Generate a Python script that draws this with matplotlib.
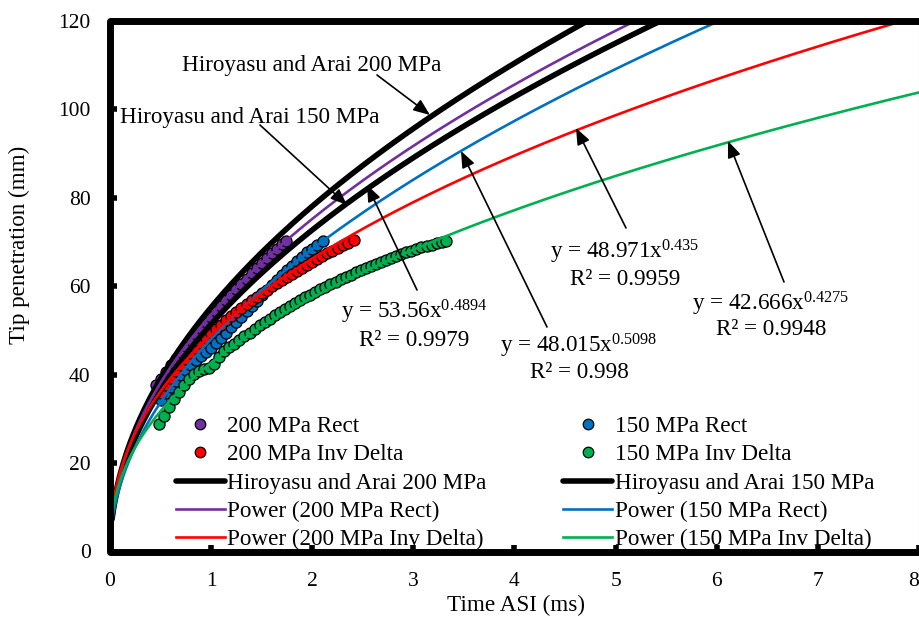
import numpy as np
import matplotlib
matplotlib.use('Agg')
import matplotlib.pyplot as plt
from matplotlib.lines import Line2D

plt.rcParams['font.family'] = ['Liberation Serif', 'DejaVu Serif']
plt.rcParams['mathtext.fontset'] = 'custom'
plt.rcParams['mathtext.rm'] = 'Liberation Serif'
plt.rcParams['mathtext.it'] = 'Liberation Serif:italic'

W, H, DPI = 920, 626, 100

# ---------------- data ----------------
t_200_rect = [0.45, 0.50, 0.55, 0.60, 0.65, 0.70, 0.75, 0.80, 0.85, 0.90, 0.95, 1.00, 1.05,
              1.10, 1.15, 1.20, 1.25, 1.30, 1.35, 1.40, 1.45, 1.50, 1.55, 1.60, 1.65, 1.70, 1.74]
y_200_rect = [37.6, 39.0, 40.6, 42.1, 43.6, 45.0, 46.4, 47.8, 49.2, 50.5, 51.8, 53.1, 54.4,
              55.6, 56.9, 58.1, 59.3, 60.5, 61.7, 62.9, 64.0, 65.2, 66.3, 67.4, 68.4, 69.5, 70.3]

t_150_rect = [0.50, 0.55, 0.60, 0.65, 0.70, 0.75, 0.80, 0.85, 0.90, 0.95, 1.00, 1.05, 1.10,
              1.15, 1.20, 1.25, 1.30, 1.35, 1.40, 1.45, 1.50, 1.55, 1.60, 1.65, 1.70, 1.75,
              1.80, 1.85, 1.90, 1.95, 2.00, 2.05, 2.11]
y_150_rect = [34.2, 35.8, 37.2, 38.6, 39.9, 41.1, 42.2, 43.2, 44.1, 45.0, 46.0, 47.1, 48.3,
              49.5, 50.7, 51.9, 53.1, 54.3, 55.5, 56.7, 57.9, 59.1, 60.3, 61.4, 62.5, 63.6,
              64.6, 65.6, 66.6, 67.6, 68.5, 69.4, 70.3]

t_200_inv = [0.50, 0.55, 0.60, 0.65, 0.70, 0.75, 0.80, 0.85, 0.90, 0.95, 1.00, 1.05, 1.10,
             1.15, 1.20, 1.25, 1.30, 1.35, 1.40, 1.45, 1.50, 1.55, 1.60, 1.65, 1.70, 1.75,
             1.80, 1.85, 1.90, 1.95, 2.00, 2.05, 2.10, 2.15, 2.20, 2.25, 2.30, 2.35, 2.41]
y_200_inv = [35.8, 37.6, 39.2, 40.7, 42.1, 43.5, 44.8, 46.0, 47.2, 48.3, 49.3, 50.3, 51.3,
             52.3, 53.2, 54.1, 55.0, 55.9, 56.8, 57.6, 58.4, 59.2, 60.0, 60.7, 61.4, 62.1,
             62.8, 63.5, 64.2, 64.8, 65.4, 66.1, 66.7, 67.4, 68.0, 68.6, 69.2, 69.8, 70.4]

t_150_inv = [0.48, 0.53, 0.58, 0.63, 0.68, 0.73, 0.78, 0.83, 0.88, 0.93, 0.98, 1.03, 1.08,
             1.13, 1.18, 1.23, 1.28, 1.33, 1.38, 1.43, 1.48, 1.53, 1.58, 1.63, 1.68, 1.73,
             1.78, 1.83, 1.88, 1.93, 1.98, 2.03, 2.08, 2.13, 2.18, 2.23, 2.28, 2.33, 2.38,
             2.43, 2.48, 2.53, 2.58, 2.63, 2.68, 2.73, 2.78, 2.83, 2.88, 2.93, 2.98, 3.03,
             3.08, 3.13, 3.18, 3.23, 3.28, 3.32]
y_150_inv = [28.8, 30.6, 32.6, 34.4, 36.1, 37.6, 39.0, 40.2, 40.9, 41.2, 41.5, 42.3, 44.0,
             45.3, 46.2, 47.0, 47.9, 48.7, 49.5, 50.3, 51.1, 51.9, 52.6, 53.4, 54.1, 54.8,
             55.5, 56.2, 56.8, 57.5, 58.1, 58.7, 59.3, 59.9, 60.5, 61.0, 61.6, 62.1, 62.6,
             63.1, 63.6, 64.1, 64.6, 65.1, 65.5, 66.0, 66.4, 66.8, 67.2, 67.6, 68.0, 68.4,
             68.8, 69.1, 69.4, 69.7, 70.0, 70.2]

# power trendline coefficients y = a x^b (as printed on the chart)
fit_a = [53.56, 48.015, 48.971, 42.666]
fit_b = [0.4894, 0.5098, 0.435, 0.4275]
fit_r2 = ['0.9979', '0.998', '0.9959', '0.9948']

# Hiroyasu and Arai model curves y = k t^0.5 (k)
hiro_k = [55.2, 51.4]
hiro_labels = ['Hiroyasu and Arai 200 MPa', 'Hiroyasu and Arai 150 MPa']

x_ticks = [0, 1, 2, 3, 4, 5, 6, 7, 8]
y_ticks = [0, 20, 40, 60, 80, 100, 120]

C_PURPLE, C_BLUE, C_RED, C_GREEN = '#7030A0', '#0070C0', '#FF0000', '#00B050'

# ---------------- figure ----------------
fig = plt.figure(figsize=(W / DPI, H / DPI), dpi=DPI)
L, R, T, B = 110, 919, 20.7, 551.5
ax = fig.add_axes([L / W, 1 - B / H, (R - L) / W, (B - T) / H])
ax.set_xlim(0, 8)
ax.set_ylim(0, 120)

ms = 8.0
mew = 0.9
sc1, = ax.plot(t_200_rect, y_200_rect, 'o', ms=ms, mfc=C_PURPLE, mec='black', mew=mew, zorder=2)
sc2, = ax.plot(t_150_rect, y_150_rect, 'o', ms=ms, mfc=C_BLUE, mec='black', mew=mew, zorder=2)
sc3, = ax.plot(t_200_inv, y_200_inv, 'o', ms=ms, mfc=C_RED, mec='black', mew=mew, zorder=2)
sc4, = ax.plot(t_150_inv, y_150_inv, 'o', ms=ms, mfc=C_GREEN, mec='black', mew=mew, zorder=2)

tt = np.linspace(0.02, 8, 500)
h1, = ax.plot(tt, hiro_k[0] * tt ** 0.5, color='black', lw=4.0, solid_capstyle='round', zorder=3)
h2, = ax.plot(tt, hiro_k[1] * tt ** 0.5, color='black', lw=4.0, solid_capstyle='round', zorder=3)

fit_colors = [C_PURPLE, C_BLUE, C_RED, C_GREEN]
fits = []
for a, b, c in zip(fit_a, fit_b, fit_colors):
    ln, = ax.plot(tt, a * tt ** b, color=c, lw=1.9, zorder=4)
    fits.append(ln)

# frame
for s in ['left', 'top', 'bottom']:
    ax.spines[s].set_visible(False)
ax.spines['right'].set_color('#a6a6a6')
ax.spines['right'].set_linewidth(0.8)
frame = Line2D([1, 0, 0, 1.01], [1, 1, 0, 0], transform=ax.transAxes, color='black', lw=5,
               solid_joinstyle='round', solid_capstyle='butt', clip_on=False, zorder=6)
ax.add_line(frame)

ax.set_xticks(x_ticks)
ax.set_yticks(y_ticks)
ax.set_xticklabels([str(v) for v in x_ticks])
ax.set_yticklabels([str(v) for v in y_ticks])
ax.tick_params(axis='both', direction='in', length=5, width=4, color='black', labelsize=15.5)
ax.tick_params(axis='x', pad=15)
ax.tick_params(axis='y', pad=14)
ax.get_xticklabels()[-1].set_horizontalalignment('right')

FS = 16.7
fig.text(516 / W, 1 - 605 / H, 'Time ASI (ms)', ha='center', va='center', fontsize=FS)
fig.text(19 / W, 1 - 245 / H, 'Tip penetration (mm)', ha='center', va='center',
         rotation=90, fontsize=FS)

# legend
handles = [sc1, sc3, h1, fits[0], fits[2], sc2, sc4, h2, fits[1], fits[3]]
labels = ['200 MPa Rect', '200 MPa Inv Delta', hiro_labels[0], 'Power (200 MPa Rect)',
          'Power (200 MPa Inv Delta)', '150 MPa Rect', '150 MPa Inv Delta', hiro_labels[1],
          'Power (150 MPa Rect)', 'Power (150 MPa Inv Delta)']
leg = ax.legend(handles, labels, ncol=2, frameon=False, fontsize=FS, loc='upper left',
                bbox_to_anchor=(176 / W, 1 - 416 / H), bbox_transform=fig.transFigure,
                borderpad=0, borderaxespad=0, handlelength=2.1, handletextpad=0.12,
                columnspacing=3.3, labelspacing=0.3, numpoints=1, markerscale=0.95)
leg.set_zorder(7)

# model labels
fig.text(182 / W, 1 - 71 / H, hiro_labels[0], ha='left', va='baseline', fontsize=FS)
fig.text(120 / W, 1 - 123 / H, hiro_labels[1], ha='left', va='baseline', fontsize=FS)

# trendline equations
eq_pos = [(414, 319, 346), (579, 352, 378), (625, 258, 285), (771, 310, 335)]
for (cx, y1, y2), a, b, r2 in zip(eq_pos, fit_a, fit_b, fit_r2):
    fig.text(cx / W, 1 - y1 / H, 'y = %s$\\mathregular{x^{%s}}$' % (a, b), ha='center',
             va='baseline', fontsize=FS)
    fig.text(cx / W, 1 - y2 / H, 'R\u00b2 = %s' % r2, ha='center', va='baseline', fontsize=FS)

# arrows (tail -> tip), figure pixels from top-left
arrows = [((377, 75), (430, 115)), ((260, 125), (347, 205)), ((417, 290), (367, 185)),
          ((547, 327), (461, 151)), ((626, 228), (576, 128)), ((784, 282), (728, 141))]
for (x0, y0), (x1, y1) in arrows:
    ax.annotate('', xy=(x1, H - y1), xycoords='figure pixels', xytext=(x0, H - y0),
                textcoords='figure pixels',
                arrowprops=dict(arrowstyle='-|>,head_length=0.5,head_width=0.2',
                                mutation_scale=20, lw=1.2, color='black',
                                shrinkA=0, shrinkB=0), zorder=8)

fig.savefig('out.png', dpi=DPI)
